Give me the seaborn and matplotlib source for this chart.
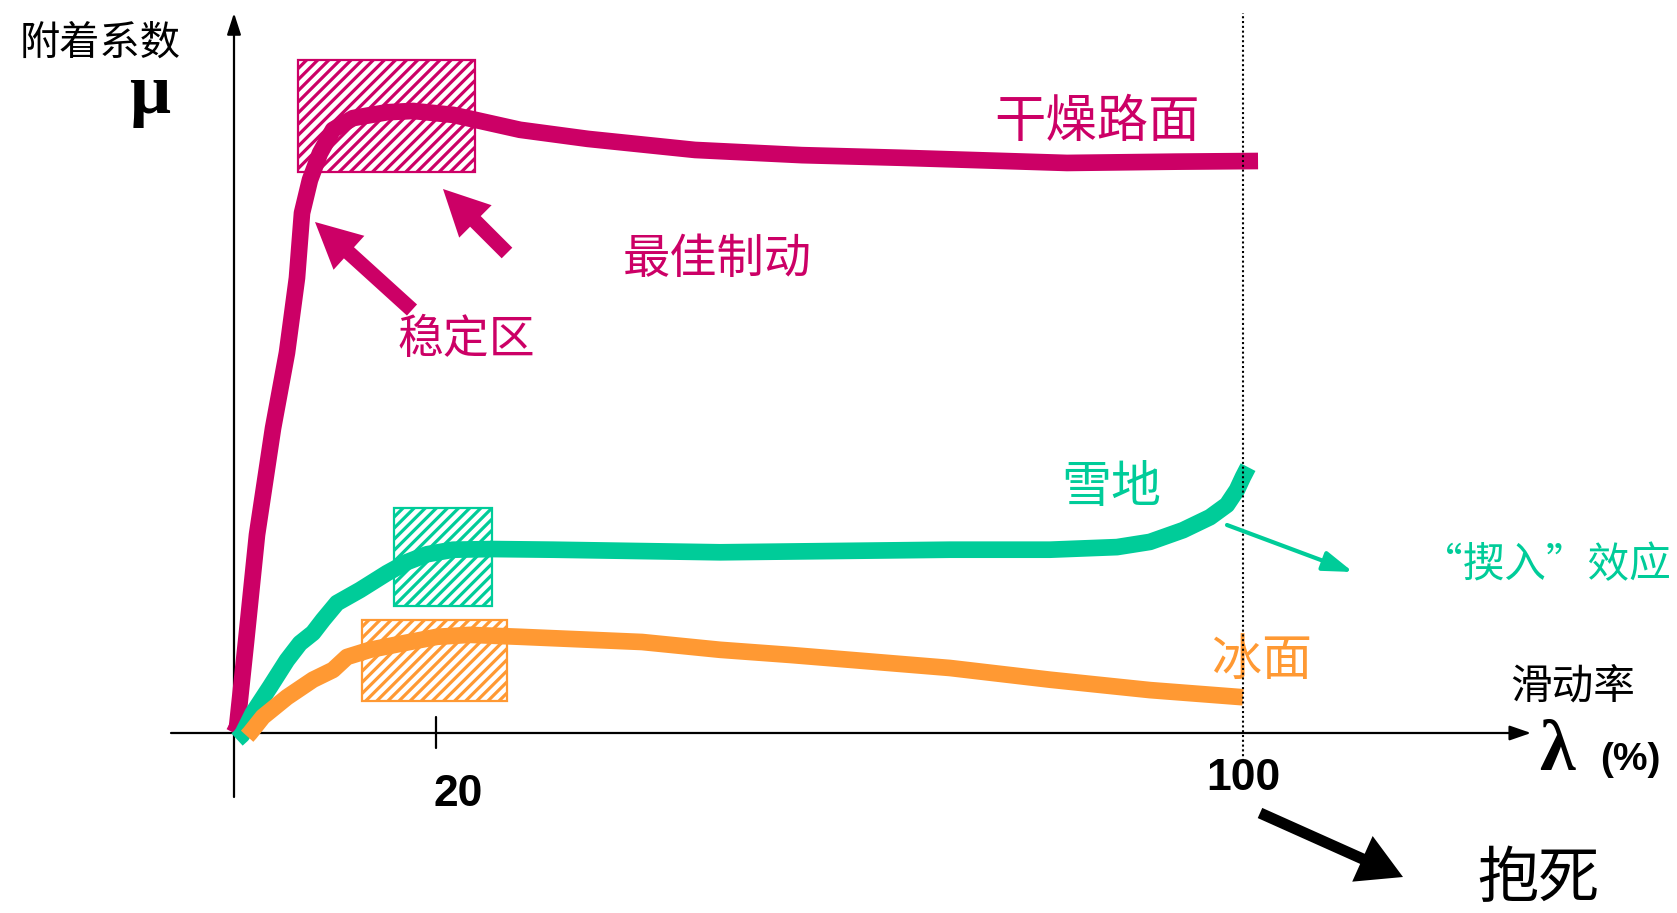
import numpy as np
import pandas as pd
import matplotlib
matplotlib.use("Agg")
import matplotlib.pyplot as plt
from matplotlib.patches import Rectangle
import seaborn as sns

# ---------------- data ----------------
dry_x = [0.0, 0.30, 1.19, 2.28, 3.87, 5.25, 6.24, 6.74, 7.53, 8.52, 9.81, 11.79, 15.16,
         17.74, 21.70, 28.34, 35.08, 45.69, 56.29, 66.0, 82.56, 93.36, 101.49]
dry_y = [0.0, 0.009, 0.14, 0.305, 0.469, 0.585, 0.70, 0.80, 0.851, 0.892, 0.928, 0.946,
         0.955, 0.957, 0.951, 0.928, 0.914, 0.897, 0.889, 0.885, 0.877, 0.879, 0.88]

snow_x = [0.3, 0.79, 1.88, 3.57, 5.25, 6.54, 7.83, 8.82, 10.21, 12.49, 15.16, 17.15, 19.13,
          21.70, 25.67, 31.62, 48.17, 70.96, 80.87, 87.51, 90.78, 94.05, 96.73, 98.41,
          99.40, 100.0, 100.5]
snow_y = [-0.01, -0.003, 0.031, 0.071, 0.112, 0.138, 0.154, 0.174, 0.20, 0.22, 0.246, 0.263,
          0.275, 0.282, 0.283, 0.282, 0.278, 0.282, 0.282, 0.286, 0.294, 0.312, 0.332,
          0.351, 0.374, 0.394, 0.409]

ice_x = [1.3, 1.59, 2.87, 5.25, 7.83, 9.81, 11.2, 13.48, 16.75, 20.12, 23.39, 28.34,
         40.44, 48.17, 55.2, 70.96, 80.87, 90.78, 100.0]
ice_y = [-0.005, 0.0, 0.025, 0.055, 0.082, 0.097, 0.117, 0.128, 0.138, 0.148, 0.151, 0.148,
         0.14, 0.128, 0.12, 0.10, 0.082, 0.066, 0.055]

surfaces = ["干燥路面", "雪地", "冰面"]
colors = {"干燥路面": "#CC0066", "雪地": "#00CC99", "冰面": "#FF9933"}

# stable (optimal braking) zones: x0, x1, y0, y1
zone_x0 = [6.34, 15.86, 12.69]
zone_x1 = [23.89, 25.57, 27.06]
zone_y0 = [0.863, 0.195, 0.049]
zone_y1 = [1.035, 0.346, 0.174]

x_ticks = [20, 100]
x_tick_labels = ["20", "100"]

# ---------------- figure ----------------
W, H = 1677, 913
X0, Y0, SX, SY = 234, 733, 10.09, 650.0


def dx(X):
    return (X - X0) / SX


def dy(Y):
    return (Y0 - Y) / SY


sns.set_theme(style="white")
plt.rcParams["font.family"] = ["Noto Sans CJK SC", "DejaVu Sans"]
plt.rcParams["text.color"] = "black"
plt.rcParams["hatch.linewidth"] = 2.3

fig = plt.figure(figsize=(W / 100, H / 100), dpi=100)
ax = fig.add_axes([0, 0, 1, 1])
ax.set_xlim(dx(0), dx(W))
ax.set_ylim(dy(H), dy(0))
ax.axis("off")

# hatched zones
for s, x0, x1, y0, y1 in zip(surfaces, zone_x0, zone_x1, zone_y0, zone_y1):
    ax.add_patch(Rectangle((x0, y0), x1 - x0, y1 - y0, facecolor="none",
                           edgecolor=colors[s], hatch="///", lw=1.6, zorder=1))

# curves
df = pd.concat([
    pd.DataFrame({"slip": dry_x, "mu": dry_y, "surface": "干燥路面"}),
    pd.DataFrame({"slip": snow_x, "mu": snow_y, "surface": "雪地"}),
    pd.DataFrame({"slip": ice_x, "mu": ice_y, "surface": "冰面"}),
], ignore_index=True)
sns.lineplot(data=df, x="slip", y="mu", hue="surface", palette=colors, units="surface",
             estimator=None, sort=False, linewidth=12, legend=False, ax=ax,
             solid_capstyle="butt", solid_joinstyle="round", zorder=3)

# axes with arrows
ax.annotate("", xy=(dx(1531), 0), xytext=(dx(171), 0),
            arrowprops=dict(arrowstyle="-|>,head_length=1.3,head_width=0.45", lw=1.6,
                            color="black", shrinkA=0, shrinkB=0, mutation_scale=10), zorder=2)
ax.annotate("", xy=(0, dy(13)), xytext=(0, dy(797)),
            arrowprops=dict(arrowstyle="-|>,head_length=1.3,head_width=0.42", lw=1.6,
                            color="black", shrinkA=0, shrinkB=0, mutation_scale=10), zorder=2)

# tick at 20 and dotted line at 100
ax.plot([x_ticks[0], x_ticks[0]], [dy(717), dy(748)], color="black", lw=1.6, zorder=2)
ax.plot([x_ticks[1], x_ticks[1]], [dy(761), dy(13)], color="black", lw=1.5,
        ls=(0, (1, 1.3)), zorder=4)
ax.text(x_ticks[0] + 2.2, dy(806), x_tick_labels[0], fontsize=32, fontweight="bold",
        family=["Liberation Sans", "DejaVu Sans"], ha="center", va="baseline", color="black")
ax.text(x_ticks[1], dy(790), x_tick_labels[1], fontsize=32, fontweight="bold",
        family=["Liberation Sans", "DejaVu Sans"], ha="center", va="baseline", color="black")

# axis titles
ax.text(dx(100), dy(43), "附着系数", fontsize=29, ha="center", va="center", color="black")
ax.text(dx(150), dy(113), "μ", fontsize=52, fontweight="bold",
        family=["Liberation Serif", "DejaVu Serif"], ha="center", va="baseline", color="black")
ax.text(dx(1573), dy(687), "滑动率", fontsize=30, ha="center", va="center", color="black")
ax.text(dx(1557), dy(770), "λ", fontsize=52, fontweight="bold",
        family=["Liberation Serif", "DejaVu Serif"], ha="center", va="baseline", color="black")
ax.text(dx(1630), dy(770), "(%)", fontsize=28, fontweight="bold",
        family=["Liberation Sans", "DejaVu Sans"], ha="center", va="baseline", color="black")

# curve labels
ax.text(dx(1097), dy(122), "干燥路面", fontsize=37, ha="center", va="center", color=colors["干燥路面"])
ax.text(dx(717), dy(260), "最佳制动", fontsize=34, ha="center", va="center", color=colors["干燥路面"])
ax.text(dx(466), dy(340), "稳定区", fontsize=33, ha="center", va="center", color=colors["干燥路面"])
ax.text(dx(1111), dy(488), "雪地", fontsize=36, ha="center", va="center", color=colors["雪地"])
ax.text(dx(1671), dy(566), "“揳入”效应", fontsize=30, ha="right", va="center", color=colors["雪地"])
ax.text(dx(1262), dy(661), "冰面", fontsize=36, ha="center", va="center", color=colors["冰面"])
ax.text(dx(1538), dy(880), "抱死", fontsize=44, ha="center", va="center", color="black")

# annotation arrows
mag = colors["干燥路面"]
ax.annotate("", xy=(dx(315), dy(222)), xytext=(dx(412), dy(310)),
            arrowprops=dict(arrowstyle="simple,head_length=3.3,head_width=3.3,tail_width=1.08",
                            color=mag, lw=0, shrinkA=0, shrinkB=0, mutation_scale=10), zorder=5)
ax.annotate("", xy=(dx(443), dy(189)), xytext=(dx(507), dy(253)),
            arrowprops=dict(arrowstyle="simple,head_length=3.3,head_width=3.3,tail_width=1.08",
                            color=mag, lw=0, shrinkA=0, shrinkB=0, mutation_scale=10), zorder=5)
ax.annotate("", xy=(dx(1353), dy(572)), xytext=(dx(1227), dy(525)),
            arrowprops=dict(arrowstyle="-|>,head_length=1.8,head_width=0.6", lw=3,
                            color=colors["雪地"], shrinkA=0, shrinkB=0, mutation_scale=10), zorder=5)
ax.annotate("", xy=(dx(1403), dy(877)), xytext=(dx(1260), dy(813)),
            arrowprops=dict(arrowstyle="simple,head_length=3.2,head_width=3.6,tail_width=0.8",
                            color="black", lw=0, shrinkA=0, shrinkB=0, mutation_scale=10), zorder=5)

fig.savefig("out.png", dpi=100)
